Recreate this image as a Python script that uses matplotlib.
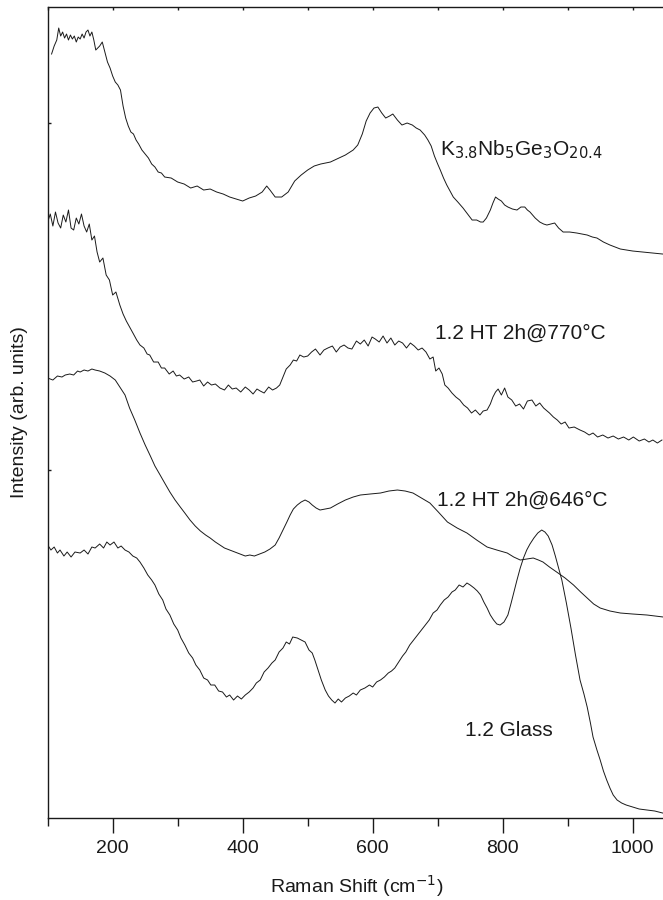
import numpy as np
import matplotlib.pyplot as plt
from matplotlib.ticker import MultipleLocator

plt.rcParams['font.family'] = ['Liberation Sans', 'DejaVu Sans']

# Raman spectra (stacked, arbitrary units, offsets included)
x_k = [106, 110, 114, 117, 120, 123, 126, 129, 132, 135, 138, 141, 144, 147, 150, 153, 156, 159,
       162, 165, 168, 171, 174, 177, 180, 184, 188, 192, 196, 200, 204, 208, 212, 216, 220, 224,
       228, 232, 236, 240, 245, 250, 255, 260, 265, 270, 275, 280, 290, 300, 310, 320, 330, 340,
       350, 360, 370, 380, 390, 400, 410, 420, 430, 437, 442, 450, 460, 470, 480, 490, 500, 510,
       520, 535, 545, 558, 570, 577, 584, 590, 596, 602, 608, 614, 620, 626, 631, 638, 645, 653,
       661, 667, 673, 680, 685, 690, 695, 700, 704, 709, 714, 719, 724, 731, 739, 746, 753, 760,
       766, 770, 775, 781, 785, 789, 793, 798, 803, 808, 815, 822, 828, 834, 838, 842, 850, 857,
       863, 868, 874, 880, 886, 893, 903, 914, 922, 930, 938, 945, 955, 965, 973, 981, 990, 1000,
       1015, 1030, 1046]
y_k = [764, 772, 778, 790, 782, 786, 780, 784, 778, 783, 779, 782, 776, 781, 779, 784, 780, 786,
       788, 782, 786, 778, 768, 770, 772, 776, 766, 756, 750, 742, 736, 733, 728, 712, 700, 692,
       686, 684, 678, 674, 668, 664, 660, 654, 651, 646, 645, 641, 640, 636, 634, 630, 632, 628,
       629, 626, 624, 621, 619, 617, 620, 622, 626, 632, 628, 621, 621, 626, 637, 643, 648, 652,
       654, 656, 659, 663, 668, 673, 684, 697, 705, 710, 711, 705, 700, 702, 704, 698, 693, 695,
       693, 690, 688, 683, 678, 672, 662, 654, 648, 640, 633, 627, 621, 616, 610, 604, 598, 598,
       596, 596, 600, 608, 615, 621, 619, 617, 613, 611, 609, 608, 611, 611, 608, 606, 600, 596,
       594, 593, 594, 595, 590, 586, 586, 585, 584, 583, 581, 580, 576, 573, 571, 569, 568, 567,
       566, 565, 564]

x_770 = [100, 104, 108, 112, 116, 120, 124, 128, 132, 136, 140, 144, 148, 152, 156, 160, 164, 168,
         172, 176, 180, 185, 190, 195, 200, 205, 211, 216, 221, 227, 232, 237, 242, 248, 253, 257,
         263, 270, 275, 280, 287, 293, 298, 303, 310, 317, 323, 329, 334, 340, 346, 352, 358, 365,
         372, 378, 384, 390, 397, 404, 410, 416, 422, 427, 433, 440, 446, 452, 457, 462, 467, 473,
         478, 483, 488, 494, 500, 506, 512, 519, 525, 531, 538, 544, 550, 556, 562, 568, 575, 581,
         587, 593, 599, 604, 610, 616, 622, 628, 634, 640, 646, 652, 658, 664, 670, 676, 682, 688,
         693, 697, 702, 707, 711, 716, 722, 728, 734, 740, 746, 752, 758, 765, 770, 776, 781, 785,
         789, 793, 798, 803, 808, 814, 820, 826, 832, 838, 845, 851, 857, 863, 872, 878, 884, 890,
         896, 902, 910, 919, 926, 933, 939, 946, 954, 962, 970, 978, 986, 994, 1001, 1010, 1018,
         1025, 1031, 1038, 1045]
y_770 = [596, 604, 592, 606, 595, 590, 603, 596, 608, 590, 588, 600, 594, 604, 592, 586, 594, 578,
         582, 566, 556, 560, 543, 538, 523, 526, 513, 504, 497, 490, 484, 478, 473, 470, 464, 463,
         456, 456, 450, 450, 444, 447, 442, 443, 439, 441, 436, 437, 438, 432, 436, 433, 434, 430,
         428, 433, 429, 430, 426, 431, 428, 424, 429, 427, 425, 431, 428, 430, 433, 441, 449, 453,
         458, 457, 463, 461, 462, 466, 469, 463, 468, 470, 472, 466, 471, 473, 470, 469, 477, 474,
         478, 472, 481, 479, 476, 482, 475, 480, 473, 477, 475, 470, 475, 472, 468, 470, 466, 459,
         461, 447, 450, 444, 433, 430, 425, 421, 418, 413, 410, 405, 408, 403, 407, 408, 414, 421,
         426, 429, 423, 430, 421, 418, 412, 414, 409, 417, 418, 412, 415, 410, 405, 401, 398, 394,
         396, 390, 391, 388, 386, 383, 385, 381, 383, 380, 382, 379, 381, 378, 381, 377, 379,
         376, 378, 375, 378]

x_646 = [100, 108, 115, 122, 127, 134, 140, 146, 150, 156, 162, 168, 173, 180, 188, 196, 204, 211,
         219, 226, 234, 242, 250, 258, 265, 273, 280, 288, 296, 304, 311, 319, 327, 335, 343, 350,
         358, 365, 372, 380, 388, 396, 404, 411, 418, 426, 434, 442, 450, 456, 462, 468, 473, 478,
         484, 490, 496, 502, 507, 513, 519, 527, 535, 546, 558, 570, 581, 596, 612, 625, 638, 650,
         662, 675, 688, 701, 715, 730, 745, 760, 776, 791, 807, 817, 827, 837, 847, 855, 862, 872,
         883, 896, 909, 920, 930, 940, 950, 965, 981, 1000, 1022, 1047]
y_646 = [440, 438, 442, 441, 443, 444, 443, 447, 446, 448, 447, 449, 448, 447, 445, 442, 438, 431,
         423, 410, 398, 385, 373, 362, 352, 343, 335, 326, 318, 311, 305, 298, 292, 287, 283, 280,
         276, 273, 270, 268, 266, 264, 262, 263, 262, 264, 266, 269, 273, 280, 288, 296, 303, 309,
         313, 316, 318, 316, 313, 310, 308, 309, 310, 314, 318, 321, 323, 324, 325, 327, 328, 327,
         325, 320, 315, 306, 296, 290, 285, 278, 271, 268, 265, 261, 258, 259, 260, 258, 256, 251,
         246, 240, 233, 226, 220, 214, 210, 207, 205, 204, 203, 201]

x_glass = [100, 105, 110, 115, 119, 125, 130, 136, 142, 150, 156, 162, 168, 173, 180, 186, 191, 196,
           202, 208, 213, 219, 225, 231, 237, 242, 248, 254, 260, 265, 271, 277, 282, 288, 294, 300,
           305, 311, 317, 323, 328, 334, 340, 346, 351, 357, 363, 369, 375, 380, 386, 392, 398, 404,
           410, 416, 421, 427, 433, 439, 445, 450, 456, 462, 467, 472, 477, 484, 490, 496, 502, 507,
           511, 516, 521, 527, 532, 537, 542, 547, 552, 558, 564, 570, 575, 581, 588, 595, 600, 606,
           612, 618, 624, 629, 634, 640, 646, 651, 657, 663, 669, 675, 681, 687, 693, 699, 704, 710,
           716, 722, 727, 733, 739, 745, 750, 756, 761, 766, 771, 776, 781, 786, 791, 796, 802, 808,
           813, 818, 822, 827, 832, 837, 842, 848, 854, 860, 865, 870, 876, 881, 886, 891, 898, 905,
           912, 919, 925, 930, 935, 939, 945, 950, 955, 960, 965, 970, 976, 983, 990, 1000, 1010,
           1022, 1034, 1046]
y_glass = [273, 268, 271, 265, 268, 262, 266, 261, 266, 265, 268, 264, 271, 270, 274, 270, 276, 273,
           276, 270, 272, 268, 266, 262, 260, 256, 250, 243, 238, 233, 224, 218, 209, 203, 194, 188,
           180, 173, 165, 160, 153, 148, 140, 138, 133, 133, 127, 126, 121, 123, 118, 122, 119, 123,
           126, 130, 135, 138, 146, 150, 155, 158, 166, 170, 176, 174, 181, 180, 178, 176, 168, 165,
           158, 148, 138, 128, 122, 118, 115, 119, 116, 120, 122, 125, 123, 128, 130, 133, 131, 136,
           138, 141, 145, 147, 150, 156, 162, 166, 173, 178, 183, 188, 193, 198, 205, 208, 213, 218,
           221, 226, 228, 233, 231, 235, 233, 230, 227, 223, 216, 210, 203, 198, 194, 193, 196, 203,
           215, 228, 238, 250, 260, 268, 274, 280, 285, 288, 286, 282, 273, 262, 250, 238, 215, 190,
           163, 138, 124, 111, 95, 81, 68, 58, 47, 38, 30, 23, 18, 15, 13, 11, 9,
           8, 7, 5]

labels = ['K$_{3.8}$Nb$_5$Ge$_3$O$_{20.4}$', '1.2 HT 2h@770\u00b0C', '1.2 HT 2h@646\u00b0C', '1.2 Glass']
label_x = [703, 696, 699, 742]
label_y = [668, 485, 318, 88]

ink = '#1a1a1a'
fig = plt.figure(figsize=(6.63, 9.0), dpi=100)
ax = fig.add_axes([0.0719, 0.0911, 0.9314, 0.9011])

for xs, ys in [(x_k, y_k), (x_770, y_770), (x_646, y_646), (x_glass, y_glass)]:
    ax.plot(xs, ys, color=ink, lw=0.7)

for lab, lx, ly in zip(labels, label_x, label_y):
    ax.text(lx, ly, lab, fontsize=15, color=ink, va='center', ha='left')

ax.set_xlim(100, 1050)
ax.set_ylim(0, 811)
ax.xaxis.set_major_locator(MultipleLocator(200))
ax.xaxis.set_minor_locator(MultipleLocator(100))
ax.tick_params(axis='x', which='major', direction='out', length=10.5, width=1.0,
               colors=ink, labelsize=14, pad=5)
ax.tick_params(axis='x', which='minor', direction='out', length=5.5, width=1.0, colors=ink)
ax.set_yticks([348, 695])
ax.tick_params(axis='y', direction='in', length=2, width=1.0, labelleft=False, colors=ink)

# small inward ticks along the top edge
top = ax.secondary_xaxis('top')
top.xaxis.set_major_locator(MultipleLocator(100))
top.tick_params(direction='in', length=2, width=1.0, labeltop=False, colors=ink)
top.spines['top'].set_visible(False)

for s in ax.spines.values():
    s.set_color(ink)
    s.set_linewidth(1.0)

ax.set_xlabel('Raman Shift (cm$^{-1}$)', fontsize=14, color=ink, labelpad=12)
ax.set_ylabel('Intensity (arb. units)', fontsize=14, color=ink, labelpad=14)

fig.savefig('out.png', dpi=100)
